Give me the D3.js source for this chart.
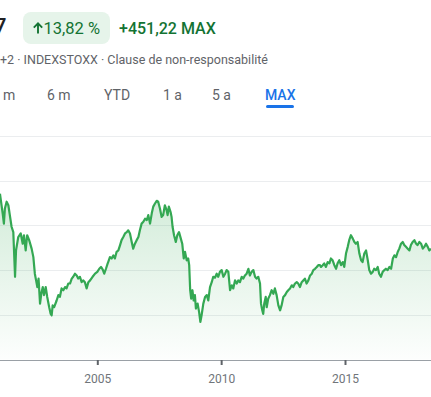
<!DOCTYPE html>
<html>
<head>
<meta charset="utf-8">
<script src="https://cdn.jsdelivr.net/npm/d3@7"></script>
<style>
  body { margin: 0; background: #fff; overflow: hidden; }
  svg { display: block; font-family: Roboto, "Noto Sans", Arial, sans-serif; }
</style>
</head>
<body>
<div id="chart"></div>
<script>
// decimal years
var years = [
  2001.07, 2001.18, 2001.23, 2001.27, 2001.34, 2001.41, 2001.48, 2001.54, 2001.61, 2001.68,
  2001.72, 2001.81, 2001.91, 2001.99, 2002.04, 2002.11, 2002.17, 2002.25, 2002.35, 2002.42,
  2002.48, 2002.53, 2002.58, 2002.63, 2002.69, 2002.74, 2002.80, 2002.85, 2002.92, 2002.98,
  2003.06, 2003.12, 2003.16, 2003.20, 2003.26, 2003.36, 2003.43, 2003.49, 2003.56, 2003.63,
  2003.70, 2003.76, 2003.83, 2003.90, 2003.97, 2004.03, 2004.10, 2004.17, 2004.23, 2004.30,
  2004.37, 2004.43, 2004.50, 2004.57, 2004.64, 2004.71, 2004.81, 2004.91, 2005.00, 2005.08,
  2005.15, 2005.22, 2005.28, 2005.35, 2005.42, 2005.44, 2005.51, 2005.58, 2005.65, 2005.71,
  2005.78, 2005.85, 2005.92, 2005.98, 2006.05, 2006.12, 2006.19, 2006.25, 2006.32, 2006.39,
  2006.45, 2006.52, 2006.59, 2006.66, 2006.72, 2006.79, 2006.86, 2006.93, 2007.00, 2007.06,
  2007.13, 2007.20, 2007.26, 2007.33, 2007.40, 2007.46, 2007.53, 2007.60, 2007.66, 2007.73,
  2007.80, 2007.84, 2007.89, 2007.96, 2008.00, 2008.04, 2008.10, 2008.17, 2008.23, 2008.30,
  2008.37, 2008.43, 2008.49, 2008.54, 2008.61, 2008.67, 2008.71, 2008.75, 2008.79, 2008.84,
  2008.89, 2008.94, 2008.98, 2009.05, 2009.11, 2009.16, 2009.21, 2009.28, 2009.35, 2009.42,
  2009.48, 2009.55, 2009.62, 2009.68, 2009.75, 2009.82, 2009.88, 2009.95, 2010.02, 2010.09,
  2010.16, 2010.22, 2010.29, 2010.36, 2010.43, 2010.49, 2010.56, 2010.63, 2010.69, 2010.76,
  2010.83, 2010.89, 2010.96, 2011.03, 2011.10, 2011.16, 2011.23, 2011.30, 2011.37, 2011.43,
  2011.50, 2011.57, 2011.61, 2011.66, 2011.70, 2011.74, 2011.80, 2011.84, 2011.90, 2011.97,
  2012.04, 2012.11, 2012.17, 2012.24, 2012.31, 2012.38, 2012.44, 2012.51, 2012.58, 2012.65,
  2012.71, 2012.78, 2012.85, 2012.91, 2012.98, 2013.05, 2013.11, 2013.18, 2013.25, 2013.32,
  2013.38, 2013.45, 2013.52, 2013.59, 2013.66, 2013.72, 2013.79, 2013.86, 2013.92, 2013.99,
  2014.03, 2014.10, 2014.16, 2014.23, 2014.30, 2014.37, 2014.43, 2014.50, 2014.57, 2014.64,
  2014.70, 2014.77, 2014.84, 2014.91, 2014.97, 2015.04, 2015.11, 2015.17, 2015.24, 2015.31,
  2015.38, 2015.44, 2015.51, 2015.58, 2015.65, 2015.71, 2015.78, 2015.85, 2015.92, 2015.98,
  2016.05, 2016.12, 2016.18, 2016.25, 2016.32, 2016.38, 2016.45, 2016.52, 2016.59, 2016.65,
  2016.72, 2016.79, 2016.86, 2016.93, 2016.99, 2017.06, 2017.13, 2017.19, 2017.26, 2017.33,
  2017.39, 2017.46, 2017.53, 2017.60, 2017.66, 2017.73, 2017.80, 2017.87, 2017.93, 2018.00,
  2018.07, 2018.14, 2018.20, 2018.27, 2018.34, 2018.40, 2018.47
];

// index level at each date
var values = [
  4710, 4270, 4040, 4380, 4530, 4450, 4190, 3970, 3850, 2850,
  3440, 3740, 3820, 3590, 3780, 3440, 3780, 3670, 3480, 3290,
  2920, 2770, 2620, 2810, 2250, 2470, 2620, 2440, 2620, 2400,
  2170, 2020, 1990, 2210, 2170, 2320, 2440, 2400, 2590, 2550,
  2620, 2590, 2700, 2700, 2810, 2850, 2920, 2880, 2810, 2850,
  2730, 2770, 2730, 2590, 2730, 2770, 2850, 2920, 2960, 3030,
  3070, 3010, 2920, 3030, 3150, 3180, 3290, 3260, 3330, 3260,
  3410, 3440, 3560, 3670, 3740, 3820, 3850, 3890, 3820, 3630,
  3480, 3590, 3670, 3740, 3890, 4040, 4080, 4150, 4120, 4230,
  4040, 4270, 4420, 4490, 4550, 4530, 4380, 4190, 4230, 4450,
  4340, 4230, 4420, 4300, 4190, 3970, 3780, 3630, 3780, 3850,
  3710, 3590, 3260, 3410, 3220, 3260, 3110, 2550, 2360, 2550,
  2320, 2440, 2140, 2250, 2060, 1840, 1990, 2250, 2400, 2440,
  2320, 2620, 2730, 2850, 2830, 2920, 2850, 2960, 3000, 2850,
  2920, 3000, 2960, 2550, 2660, 2590, 2770, 2700, 2770, 2730,
  2850, 2810, 2880, 2920, 3030, 2880, 2960, 3000, 2850, 2810,
  2850, 2700, 2250, 2100, 2020, 2250, 2400, 2170, 2360, 2440,
  2550, 2470, 2590, 2440, 2210, 2100, 2210, 2400, 2440, 2510,
  2550, 2590, 2660, 2620, 2700, 2730, 2700, 2620, 2730, 2770,
  2810, 2700, 2770, 2880, 2920, 3000, 3030, 3070, 3110, 3110,
  3070, 3110, 3150, 3070, 3180, 3150, 3260, 3220, 3110, 3030,
  3150, 3220, 3110, 3180, 3070, 3370, 3520, 3670, 3780, 3710,
  3630, 3590, 3630, 3370, 3220, 3180, 3370, 3440, 3220, 3000,
  2920, 2960, 3030, 3000, 3070, 2920, 2850, 2960, 3000, 3030,
  3000, 3070, 3030, 3260, 3330, 3290, 3410, 3480, 3590, 3630,
  3560, 3520, 3480, 3440, 3560, 3630, 3670, 3590, 3560, 3630,
  3590, 3480, 3520, 3590, 3520, 3440, 3480
];

var gridValues = [2000, 3000, 4000, 5000, 6000];
var tickYears = [2005, 2010, 2015];
var periods = ["m", "6 m", "YTD", "1 a", "5 a", "MAX"];
var periodX = [3, 47, 104, 163, 212, 265];

var width = 431, height = 397;

function toDate(y) {
  var yr = Math.floor(y);
  var start = new Date(yr, 0, 1), end = new Date(yr + 1, 0, 1);
  return new Date(+start + (y - yr) * (end - start));
}

var data = years.map(function(y, i) {
  return { date: toDate(y), value: values[i] };
});

var svg = d3.select("#chart")
  .append("svg")
  .attr("width", width)
  .attr("height", height);

// ---- header ----
svg.append("text")
  .attr("x", -6)
  .attr("y", 34)
  .attr("font-size", 22)
  .attr("font-weight", 500)
  .attr("fill", "#202124")
  .text("7");

svg.append("rect")
  .attr("x", 23)
  .attr("y", 12)
  .attr("width", 87)
  .attr("height", 32)
  .attr("rx", 8)
  .attr("fill", "#e6f4ea");

// up arrow icon
svg.append("path")
  .attr("d", "M38,33.5V23.5M33.8,27.6L38,23.3L42.2,27.6")
  .attr("fill", "none")
  .attr("stroke", "#137333")
  .attr("stroke-width", 1.9);

svg.append("text")
  .attr("x", 43.5)
  .attr("y", 33.5)
  .attr("font-size", 16.5)
  .attr("fill", "#137333")
  .text("13,82 %");

svg.append("text")
  .attr("x", 119)
  .attr("y", 33.5)
  .attr("font-size", 16)
  .attr("font-weight", 500)
  .attr("fill", "#137333")
  .text("+451,22 MAX");

svg.append("text")
  .attr("x", 0)
  .attr("y", 64)
  .attr("font-size", 12.5)
  .attr("fill", "#5f6368")
  .text("+2 \u00b7 INDEXSTOXX \u00b7 Clause de non-responsabilit\u00e9");

// period tabs
svg.selectAll(".period")
  .data(periods)
  .enter()
  .append("text")
  .attr("class", "period")
  .attr("x", function(d, i) { return periodX[i]; })
  .attr("y", 100)
  .attr("font-size", 14)
  .attr("font-weight", function(d) { return d == "MAX" ? 500 : 400; })
  .attr("fill", function(d) { return d == "MAX" ? "#1a73e8" : "#5f6368"; })
  .text(function(d) { return d; });

svg.append("rect")
  .attr("x", 266)
  .attr("y", 105)
  .attr("width", 28)
  .attr("height", 3)
  .attr("rx", 1.5)
  .attr("fill", "#1a73e8");

// ---- chart ----
var x = d3.scaleTime()
  .domain([new Date(2005, 0, 1), new Date(2015, 0, 1)])
  .range([97.3, 345]);

var y = d3.scaleLinear()
  .domain([1000, 6000])
  .range([359.5, 136]);

// gridlines
svg.selectAll(".grid")
  .data(gridValues)
  .enter()
  .append("line")
  .attr("x1", 0)
  .attr("x2", width)
  .attr("y1", function(d) { return Math.round(y(d)) + 0.5; })
  .attr("y2", function(d) { return Math.round(y(d)) + 0.5; })
  .attr("stroke", "#ebedef")
  .attr("stroke-width", 1);

// gradient fill under the line
var defs = svg.append("defs");
var grad = defs.append("linearGradient")
  .attr("id", "fillGrad")
  .attr("gradientUnits", "userSpaceOnUse")
  .attr("x1", 0).attr("x2", 0)
  .attr("y1", y(d3.max(values)))
  .attr("y2", y(1000));
grad.append("stop").attr("offset", "0%").attr("stop-color", "#34a853").attr("stop-opacity", 0.22);
grad.append("stop").attr("offset", "100%").attr("stop-color", "#34a853").attr("stop-opacity", 0.01);

svg.append("path")
  .datum(data)
  .attr("fill", "url(#fillGrad)")
  .attr("d", d3.area()
    .x(function(d) { return x(d.date); })
    .y0(y(1000))
    .y1(function(d) { return y(d.value); })
  );

svg.append("path")
  .datum(data)
  .attr("fill", "none")
  .attr("stroke", "#34a853")
  .attr("stroke-width", 2.2)
  .attr("stroke-linejoin", "round")
  .attr("d", d3.line()
    .x(function(d) { return x(d.date); })
    .y(function(d) { return y(d.value); })
  );

// x axis
var xAxis = svg.append("g")
  .attr("transform", "translate(0," + 360 + ")")
  .call(d3.axisBottom(x)
    .tickValues(tickYears.map(function(t) { return new Date(t, 0, 1); }))
    .tickFormat(d3.timeFormat("%Y"))
    .tickSize(5)
    .tickSizeOuter(0));

xAxis.select(".domain")
  .attr("d", "M0,0.5H" + width)
  .attr("stroke", "#9aa0a6");
xAxis.selectAll(".tick line")
  .attr("stroke", "#5f6368")
  .attr("stroke-width", 2);
xAxis.selectAll(".tick text")
  .attr("dy", 0)
  .attr("y", 23)
  .attr("font-size", 12)
  .attr("font-family", "Roboto, sans-serif")
  .attr("fill", "#70757a");
</script>
</body>
</html>
